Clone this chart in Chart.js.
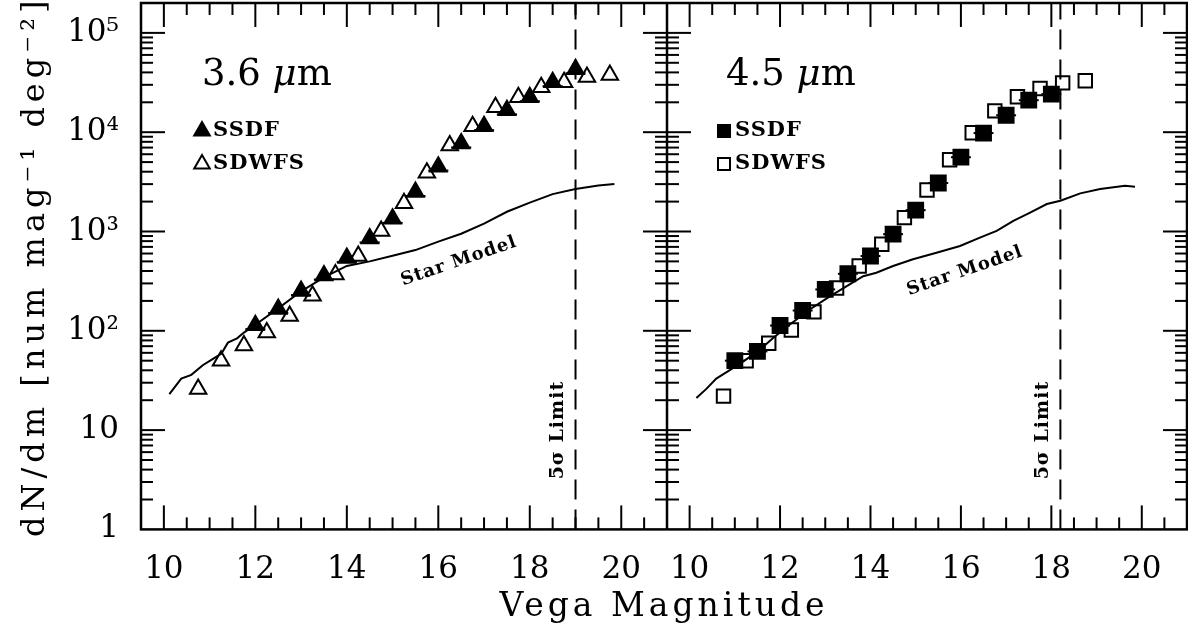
<!DOCTYPE html>
<html>
<head>
<meta charset="utf-8">
<title>Number counts</title>
<script src="https://cdn.jsdelivr.net/npm/chart.js@4.4.1/dist/chart.umd.min.js"></script>
<style>
  html, body { margin: 0; padding: 0; background: #fff; }
  #wrap { position: relative; width: 1188px; height: 643px; }
</style>
</head>
<body>
<div id="wrap"><canvas id="counts"></canvas></div>
<script>
// ---- 3.6 micron panel ----
const ssdf36Mag = [12.0, 12.5, 13.0, 13.5, 14.0, 14.5, 15.0, 15.5, 16.0, 16.5, 17.0, 17.5, 18.0, 18.5, 19.0];
const ssdf36Counts = [114, 166, 251, 360, 540, 850, 1340, 2500, 4500, 7700, 11500, 16600, 22500, 31900, 43000];
const sdwfs36Mag = [10.75, 11.25, 11.75, 12.25, 12.75, 13.25, 13.75, 14.25, 14.75, 15.25, 15.75, 16.25, 16.75, 17.25, 17.75, 18.25, 18.75, 19.25, 19.75];
const sdwfs36Counts = [26, 50, 71, 96, 141, 225, 368, 566, 1014, 1930, 3900, 7350, 11450, 17800, 22500, 28300, 31900, 35900, 37600];
const star36Mag = [10.12, 10.38, 10.6, 10.85, 11.1, 11.26, 11.4, 11.6, 11.75, 12.0, 12.5, 13.0, 13.5, 14.0, 14.5, 15.0, 15.5, 16.0, 16.5, 17.0, 17.5, 18.0, 18.5, 19.0, 19.5, 19.85];
const star36Counts = [23, 33, 36, 45, 53, 59, 76, 84, 96, 115, 168, 250, 345, 450, 500, 570, 650, 790, 950, 1200, 1580, 1950, 2380, 2680, 2900, 3010];
const limit36 = 19.0;

// ---- 4.5 micron panel ----
const ssdf45Mag = [11.0, 11.5, 12.0, 12.5, 13.0, 13.5, 14.0, 14.5, 15.0, 15.5, 16.0, 16.5, 17.0, 17.5, 18.0];
const ssdf45Counts = [50, 62, 113, 160, 261, 375, 566, 940, 1640, 3080, 5600, 9800, 14800, 21000, 24200];
const sdwfs45Mag = [10.75, 11.25, 11.75, 12.25, 12.75, 13.25, 13.75, 14.25, 14.75, 15.25, 15.75, 16.25, 16.75, 17.25, 17.75, 18.25, 18.75];
const sdwfs45Counts = [22, 50, 75, 102, 155, 270, 449, 743, 1380, 2620, 5270, 9880, 16400, 22700, 27600, 31400, 32900];
const star45Mag = [10.15, 10.37, 10.59, 10.88, 11.18, 11.51, 11.84, 12.21, 12.65, 13.1, 13.54, 13.84, 14.13, 14.5, 14.94, 15.46, 15.98, 16.42, 16.79, 17.16, 17.53, 17.9, 18.2, 18.64, 19.08, 19.63, 19.85];
const star45Counts = [21, 26, 33, 40, 49, 62, 84, 115, 163, 222, 293, 355, 384, 449, 525, 611, 715, 867, 1014, 1280, 1550, 1890, 2040, 2420, 2680, 2890, 2830];
const limit45 = 18.2;

// ---- axes ----
const xMin = 9.5, xMax = 21;
const yMin = 1, yMax = 2e5;
const xTicks = [10, 12, 14, 16, 18, 20];
const yTicks = [1, 10, 100, 1000, 10000, 100000];
const yTickLabels = ['1', '10', '10²', '10³', '10⁴', '10⁵'];
const ssdfBinHalf = 0.22; // half width of the SSDF bin bars, mag

const FONT = "'DejaVu Serif', 'Liberation Serif', serif";

function pts(xs, ys) {
    return xs.map((x, i) => ({ x: x, y: ys[i] }));
}

//draw a function with extra letter spacing, the plot font is spaced wide
function spaced(fn, spacing) {
    return function () {
        const ctx = this.ctx;
        ctx.save();
        ctx.letterSpacing = spacing;
        fn.apply(this, arguments);
        ctx.restore();
    };
}

//the axes keep no label overflow padding, the frame sits at fixed pixels
function noPadding(scale) {
    scale.paddingTop = 0;
    scale.paddingBottom = 0;
    scale.paddingLeft = 0;
    scale.paddingRight = 0;
}

function line(ctx, x0, y0, x1, y1) {
    ctx.beginPath();
    ctx.moveTo(x0, y0);
    ctx.lineTo(x1, y1);
    ctx.stroke();
}

// Frame, inside tick marks on all sides and the SSDF bin bars
const framePlugin = {
    id: 'frame',
    afterLayout(chart) {
        const tb = chart.titleBlock;
        if (tb && !tb._spaced) {
            tb.draw = spaced(tb.draw, '4px');
            tb._spaced = true;
        }
    },
    afterDatasetsDraw(chart) {
        const ctx = chart.ctx;
        const a = chart.chartArea;
        const y = chart.scales.y;
        const x1 = chart.scales.x1, x2 = chart.scales.x2;
        ctx.save();
        ctx.strokeStyle = '#000';
        ctx.lineWidth = 2;

        // bin bars through the SSDF points
        [[0, x1, 4], [1, x2, 0]].forEach(([idx, sx, dy]) => {
            chart.data.datasets[idx].data.forEach(p => {
                const py = y.getPixelForValue(p.y) + dy;
                line(ctx, sx.getPixelForValue(p.x - ssdfBinHalf), py, sx.getPixelForValue(p.x + ssdfBinHalf), py);
            });
        });

        [x1, x2].forEach(sx => {
            for (let m = Math.ceil(sx.min * 2) / 2; m <= sx.max; m += 0.5) {
                const px = sx.getPixelForValue(m);
                if (px <= sx.left + 1 || px >= sx.right - 1) continue;
                const len = (m % 2 === 0) ? 24 : 12;
                line(ctx, px, a.bottom, px, a.bottom - len);
                line(ctx, px, a.top, px, a.top + len);
            }
            for (let d = 0; d <= 5; d++) {
                for (let k = 1; k <= 9; k++) {
                    const v = k * Math.pow(10, d);
                    if (v <= y.min || v >= y.max) continue;
                    const py = y.getPixelForValue(v);
                    const len = k === 1 ? 24 : 12;
                    line(ctx, sx.left, py, sx.left + len, py);
                    line(ctx, sx.right, py, sx.right - len, py);
                }
            }
        });

        ctx.lineWidth = 2.5;
        ctx.strokeRect(a.left, a.top, a.right - a.left, a.bottom - a.top);
        line(ctx, x1.right, a.top, x1.right, a.bottom);
        ctx.restore();
    },
    afterDraw(chart) {
        const ctx = chart.ctx;
        const a = chart.chartArea;
        const y = chart.scales.y;
        const x1 = chart.scales.x1, x2 = chart.scales.x2;
        const H = Chart.helpers;
        ctx.save();
        ctx.fillStyle = '#000';
        ctx.strokeStyle = '#000';
        ctx.textBaseline = 'middle';

        // panel names, mu in italics
        [[x1, '3.6 ', 61], [x2, '4.5 ', 59]].forEach(([sx, num, off]) => {
            let px = sx.left + off;
            const py = a.top + 72;
            ctx.letterSpacing = '0px';
            ctx.textAlign = 'left';
            ctx.font = '37px ' + FONT;
            ctx.fillText(num, px, py);
            px += ctx.measureText(num).width;
            ctx.font = 'italic 37px ' + FONT;
            ctx.fillText('μ', px, py);
            px += ctx.measureText('μ').width;
            ctx.font = '37px ' + FONT;
            ctx.fillText('m', px, py);
        });

        // legends
        ctx.letterSpacing = '1px';
        ctx.font = 'bold 21px ' + FONT;
        [[x1, 'triangle', 61], [x2, 'rect', 57]].forEach(([sx, style, off]) => {
            const mx = sx.left + off;
            [['SSDF', '#000', 128], ['SDWFS', 'rgba(0,0,0,0)', 161]].forEach(([txt, fill, ly]) => {
                ctx.fillStyle = fill;
                ctx.lineWidth = 2;
                H.drawPoint(ctx, { pointStyle: style, radius: style === 'rect' ? 8.5 : 9, borderWidth: 2, rotation: 0 }, mx, a.top + ly);
                ctx.fillStyle = '#000';
                ctx.fillText(txt, mx + 11, a.top + ly);
            });
        });

        // star model labels along the curves
        ctx.font = 'bold 18px ' + FONT;
        ctx.textAlign = 'center';
        [[x1, 16.45, 500], [x2, 16.09, 400]].forEach(([sx, mx, my]) => {
            ctx.save();
            ctx.translate(sx.getPixelForValue(mx), y.getPixelForValue(my));
            ctx.rotate(-19 * Math.PI / 180);
            ctx.fillText('Star Model', 0, 0);
            ctx.restore();
        });

        // 5 sigma limit labels beside the dashed lines
        ctx.font = 'bold 19px ' + FONT;
        [[x1, limit36], [x2, limit45]].forEach(([sx, lim]) => {
            ctx.save();
            ctx.translate(sx.getPixelForValue(lim) - 17, y.getPixelForValue(10));
            ctx.rotate(-Math.PI / 2);
            ctx.fillText('5σ Limit', 0, 0);
            ctx.restore();
        });
        ctx.restore();
    }
};

function xAxis(weight) {
    return {
        type: 'linear',
        position: 'bottom',
        stack: 'mag',
        stackWeight: weight,
        min: xMin,
        max: xMax,
        grid: { display: false, drawTicks: false },
        border: { display: false },
        afterBuildTicks: scale => { scale.ticks = xTicks.map(v => ({ value: v })); },
        afterFit: scale => { scale.height = 58; noPadding(scale); },
        ticks: {
            color: '#000',
            padding: 22,
            maxRotation: 0,
            font: { family: FONT, size: 31 },
            callback: v => String(v)
        }
    };
}

const markerBase = { borderColor: '#000', borderWidth: 2, showLine: false };
const curveBase = { borderColor: '#000', borderWidth: 2, showLine: true, pointRadius: 0, tension: 0, fill: false };

new Chart(document.getElementById('counts'), {
    type: 'scatter',
    data: {
        datasets: [
            Object.assign({ label: 'SSDF 3.6', xAxisID: 'x1', data: pts(ssdf36Mag, ssdf36Counts),
                pointStyle: 'triangle', pointRadius: 9.5, backgroundColor: '#000' }, markerBase),
            Object.assign({ label: 'SSDF 4.5', xAxisID: 'x2', data: pts(ssdf45Mag, ssdf45Counts),
                pointStyle: 'rect', pointRadius: 10.5, backgroundColor: '#000' }, markerBase),
            Object.assign({ label: 'SDWFS 3.6', xAxisID: 'x1', data: pts(sdwfs36Mag, sdwfs36Counts),
                pointStyle: 'triangle', pointRadius: 9.5, backgroundColor: 'rgba(0,0,0,0)' }, markerBase),
            Object.assign({ label: 'SDWFS 4.5', xAxisID: 'x2', data: pts(sdwfs45Mag, sdwfs45Counts),
                pointStyle: 'rect', pointRadius: 9.5, backgroundColor: 'rgba(0,0,0,0)' }, markerBase),
            Object.assign({ label: 'Star model 3.6', xAxisID: 'x1', data: pts(star36Mag, star36Counts) }, curveBase),
            Object.assign({ label: 'Star model 4.5', xAxisID: 'x2', data: pts(star45Mag, star45Counts) }, curveBase),
            Object.assign({ label: '5σ limit 3.6', xAxisID: 'x1', data: pts([limit36, limit36], [yMin, yMax]),
                borderDash: [20, 10] }, curveBase),
            Object.assign({ label: '5σ limit 4.5', xAxisID: 'x2', data: pts([limit45, limit45], [yMin, yMax]),
                borderDash: [20, 10] }, curveBase)
        ]
    },
    options: {
        responsive: true,
        maintainAspectRatio: false,
        animation: false,
        events: [],
        layout: { autoPadding: false, padding: { top: 3, right: 1, bottom: 0, left: 0 } },
        scales: {
            x1: xAxis(526),
            x2: xAxis(520),
            y: {
                type: 'logarithmic',
                position: 'left',
                min: yMin,
                max: yMax,
                grid: { display: false, drawTicks: false },
                border: { display: false },
                afterBuildTicks: scale => { scale.ticks = yTicks.map(v => ({ value: v })); },
                afterFit: scale => {
                    scale.width = 141;
                    noPadding(scale);
                    if (!scale._spaced) {
                        scale.drawTitle = spaced(scale.drawTitle, '5px');
                        scale._spaced = true;
                    }
                },
                ticks: {
                    color: '#000',
                    padding: 22,
                    font: { family: FONT, size: 31 },
                    callback: (v, i) => yTickLabels[i]
                },
                title: {
                    display: true,
                    text: 'dN/dm [num mag⁻¹ deg⁻²]',
                    color: '#000',
                    padding: { top: 16, bottom: 0 },
                    font: { family: FONT, size: 32 }
                }
            }
        },
        plugins: {
            legend: { display: false },
            tooltip: { enabled: false },
            title: {
                display: true,
                text: 'Vega Magnitude',
                position: 'bottom',
                fullSize: false,
                color: '#000',
                padding: { top: 0, bottom: 16 },
                font: { family: FONT, size: 33, weight: 'normal' }
            }
        }
    },
    plugins: [framePlugin]
});
</script>
</body>
</html>
